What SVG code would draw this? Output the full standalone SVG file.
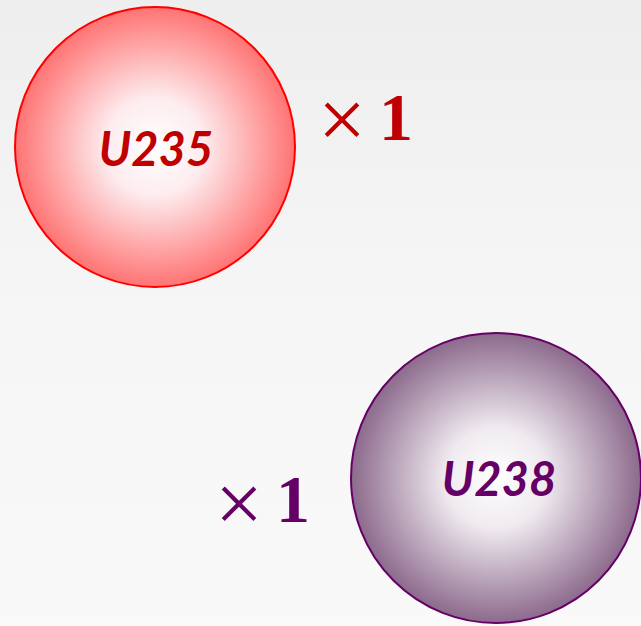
<svg xmlns="http://www.w3.org/2000/svg" width="641" height="626" viewBox="0 0 641 626">
  <defs>
    <linearGradient id="bg" x1="0" y1="0" x2="0" y2="1">
      <stop offset="0" stop-color="#eeeeee"/>
      <stop offset="0.5" stop-color="#f6f6f6"/>
      <stop offset="1" stop-color="#f9f9f9"/>
    </linearGradient>
    <radialGradient id="gRed" cx="0.5" cy="0.5" r="0.5">
      <stop offset="0" stop-color="#ffffff"/>
      <stop offset="0.35" stop-color="#fdecee"/>
      <stop offset="1" stop-color="#ff7373"/>
    </radialGradient>
    <radialGradient id="gPur" cx="0.5" cy="0.5" r="0.5">
      <stop offset="0" stop-color="#ffffff"/>
      <stop offset="0.35" stop-color="#efeaef"/>
      <stop offset="1" stop-color="#8c6a8c"/>
    </radialGradient>
    <style>
      .lbl { font-family: Lato, "Open Sans", "Liberation Sans", sans-serif; font-weight: bold; font-style: italic; font-size: 47px; text-anchor: middle; }
      .x { font-family: "Liberation Serif", "DejaVu Serif", serif; font-size: 85px; }
      .one { font-family: "Liberation Serif", "DejaVu Serif", serif; font-size: 68px; font-weight: bold; }
      .red { fill: #c00000; }
      .pur { fill: #660066; }
    </style>
  </defs>
  <rect width="641" height="626" fill="url(#bg)"/>
  <g id="u235">
    <circle cx="155" cy="147" r="140" fill="url(#gRed)" stroke="#ff0000" stroke-width="2"/>
    <text class="lbl red" x="156" y="166">U235</text>
  </g>
  <g id="u238">
    <circle cx="496" cy="478" r="145" fill="url(#gPur)" stroke="#660066" stroke-width="2"/>
    <text class="lbl pur" x="499" y="496">U238</text>
  </g>
  <g id="count235">
    <text class="x red" x="318" y="148">×</text>
    <text class="one red" x="379" y="140">1</text>
  </g>
  <g id="count238">
    <text class="x pur" x="215" y="532">×</text>
    <text class="one pur" x="276" y="522">1</text>
  </g>
  <g id="connectors"/>
</svg>
